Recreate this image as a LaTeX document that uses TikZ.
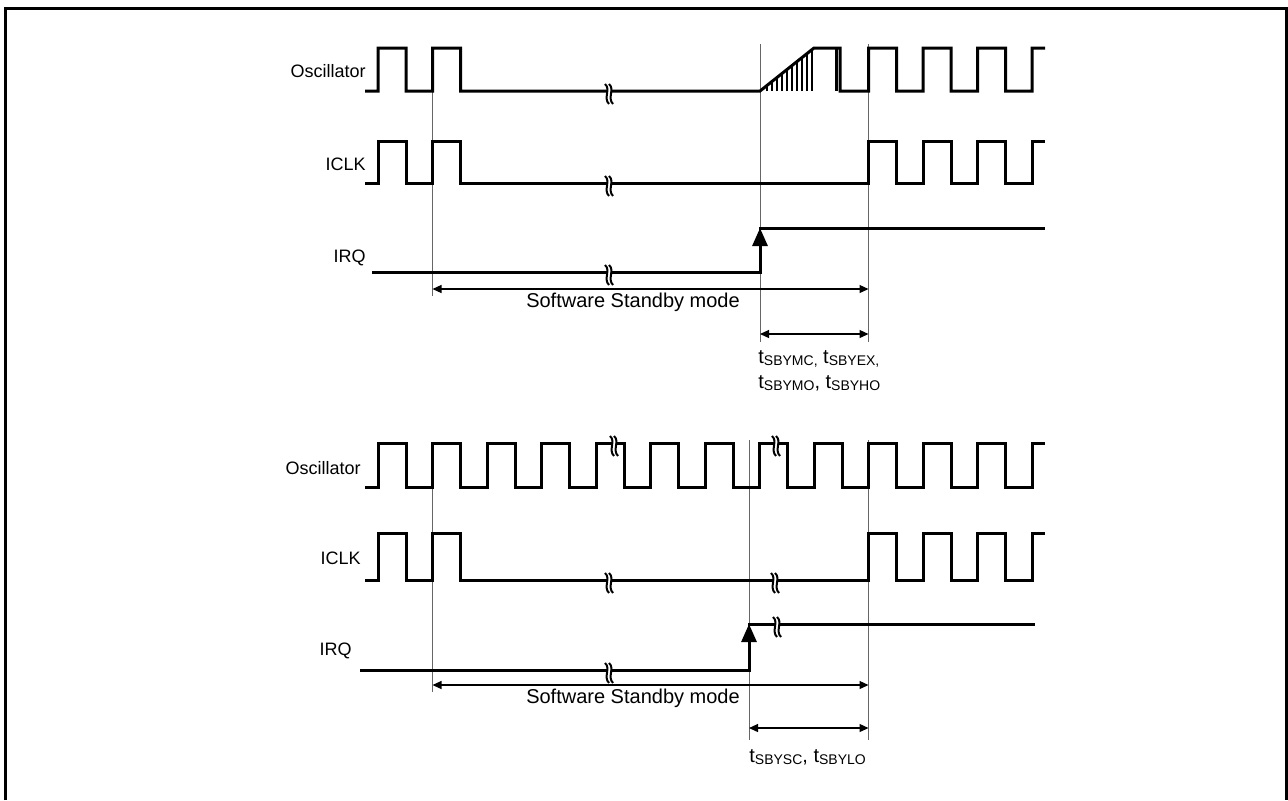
\documentclass[tikz,border=0pt]{standalone}
\usepackage{fontspec}
\setmainfont{Liberation Sans}
\usetikzlibrary{arrows.meta}
\newcommand\tsub[1]{t\raisebox{-1.2pt}{\fontsize{7}{8}\selectfont #1}}
\begin{document}
\begin{tikzpicture}[x=0.5pt,y=-0.5pt,
 sig/.style={line width=1.5pt, line join=miter},
 guide/.style={line width=0.5pt, black!60},
 dimarrow/.style={line width=0.6pt, {Triangle[length=4.5pt,width=4pt]}-{Triangle[length=4.5pt,width=4pt]}},
 irqarrow/.style={-{Triangle[length=9pt,width=7.5pt]}},
 lbl/.style={font=\fontsize{9}{11}\selectfont, inner sep=0pt},
 mlbl/.style={font=\fontsize{10}{12}\selectfont, inner sep=0pt},
 brk/.pic={
   \fill[white] (-2,-7) .. controls (4,-2) and (-4,7) .. (2,13) -- (6,13) .. controls (0,7) and (8,-2) .. (2,-7) -- cycle;
   \draw[line width=1pt] (-2,-7) .. controls (4,-2) and (-4,7) .. (2,13);
   \draw[line width=1pt] (2,-7) .. controls (8,-2) and (0,7) .. (6,13);
 }
]
\useasboundingbox (0,0) rectangle (1288,800);
\draw[line width=1.5pt] (5.5,800) -- (5.5,8.5) -- (1286.5,8.5) -- (1286.5,800);

% ================= TOP DIAGRAM =================
\coordinate (tg1a) at (432.5,48);  \coordinate (tg1b) at (432.5,296);
\coordinate (tg2a) at (760,44);    \coordinate (tg2b) at (760,342);
\coordinate (tg3a) at (868.5,44);  \coordinate (tg3b) at (868.5,342);
\draw[guide] (tg1a) -- (tg1b);
\draw[guide] (tg2a) -- (tg2b);
\draw[guide] (tg3a) -- (tg3b);

\node[lbl, anchor=base east] (tosc) at (366,77) {Oscillator};
\node[lbl, anchor=base east] (ticlk) at (366,170) {ICLK};
\node[lbl, anchor=base east] (tirq) at (366,262) {IRQ};

% Oscillator
\draw[sig] (365,91) -- (378,91) -- (378,48) -- (406,48) -- (406,91) -- (432.5,91) -- (432.5,48) -- (460.5,48) -- (460.5,91)
  -- (760,91) -- (814,48) -- (840,48) -- (840,91) -- (868.5,91) -- (868.5,48) -- (896.5,48) -- (896.5,91)
  -- (923,91) -- (923,48) -- (951,48) -- (951,91) -- (977.5,91) -- (977.5,48) -- (1005.5,48) -- (1005.5,91)
  -- (1032,91) -- (1032,48) -- (1045,48);
\draw[sig] (836,48) -- (836,91);
\foreach \x in {767,772,...,812} \draw[line width=1pt] (\x,91) -- (\x,{91-43*(\x-760)/54});

% ICLK
\draw[sig] (365,183) -- (378,183) -- (378,141) -- (406,141) -- (406,183) -- (432.5,183) -- (432.5,141) -- (460.5,141) -- (460.5,183)
  -- (868.5,183) -- (868.5,141) -- (896.5,141) -- (896.5,183)
  -- (923,183) -- (923,141) -- (951,141) -- (951,183) -- (977.5,183) -- (977.5,141) -- (1005.5,141) -- (1005.5,183)
  -- (1032,183) -- (1032,141) -- (1045,141);

% IRQ
\draw[sig, irqarrow] (372,272) -- (760,272) -- (760,228);
\draw[sig] (759.25,228) -- (1045,228);

\pic at (607,91) {brk};
\pic at (607,183) {brk};
\pic at (607,272) {brk};

\coordinate (tsa) at (432.5,289); \coordinate (tsb) at (868.5,289);
\draw[dimarrow] (tsa) -- (tsb);
\node[mlbl] (tstext) at (633,302) {Software Standby mode};
\coordinate (tda) at (760,334); \coordinate (tdb) at (868.5,334);
\draw[dimarrow] (tda) -- (tdb);
\node[mlbl, anchor=base west] (tl1) at (758,363) {\tsub{SBYMC,} \tsub{SBYEX,}};
\node[mlbl, anchor=base west] (tl2) at (758,388) {\tsub{SBYMO}, \tsub{SBYHO}};

% ================= BOTTOM DIAGRAM =================
\coordinate (bg1a) at (432.5,443);  \coordinate (bg1b) at (432.5,692);
\coordinate (bg2a) at (749,440);    \coordinate (bg2b) at (749,740);
\coordinate (bg3a) at (868.5,440);  \coordinate (bg3b) at (868.5,740);
\draw[guide] (bg1a) -- (bg1b);
\draw[guide] (bg2a) -- (bg2b);
\draw[guide] (bg3a) -- (bg3b);

\node[lbl, anchor=base east] (bosc) at (361,474) {Oscillator};
\node[lbl, anchor=base east] (biclk) at (361,564) {ICLK};
\node[lbl, anchor=base east] (birq) at (352,655) {IRQ};

\draw[sig] (365,487) \foreach \k in {0,...,11} { -- ({378+54.5*\k},487) -- ({378+54.5*\k},443) -- ({406+54.5*\k},443) -- ({406+54.5*\k},487) }
  -- (1032,487) -- (1032,443) -- (1045,443);

\draw[sig] (365,580) -- (378,580) -- (378,533) -- (406,533) -- (406,580) -- (432.5,580) -- (432.5,533) -- (460.5,533) -- (460.5,580)
  -- (868.5,580) -- (868.5,533) -- (896.5,533) -- (896.5,580)
  -- (923,580) -- (923,533) -- (951,533) -- (951,580) -- (977.5,580) -- (977.5,533) -- (1005.5,533) -- (1005.5,580)
  -- (1032,580) -- (1032,533) -- (1045,533);

\draw[sig, irqarrow] (360,670) -- (749,670) -- (749,624);
\draw[sig] (748.25,624) -- (1035,624);

\pic at (612,443) {brk};
\pic at (774,443) {brk};
\pic at (607,580) {brk};
\pic at (773,580) {brk};
\pic at (607,670) {brk};
\pic at (775,624) {brk};

\coordinate (bsa) at (432.5,685); \coordinate (bsb) at (868.5,685);
\draw[dimarrow] (bsa) -- (bsb);
\node[mlbl] (bstext) at (633,698) {Software Standby mode};
\coordinate (bda) at (749,728); \coordinate (bdb) at (868.5,728);
\draw[dimarrow] (bda) -- (bdb);
\node[mlbl, anchor=base west] (bl1) at (749,762) {\tsub{SBYSC}, \tsub{SBYLO}};
\end{tikzpicture}
\end{document}
